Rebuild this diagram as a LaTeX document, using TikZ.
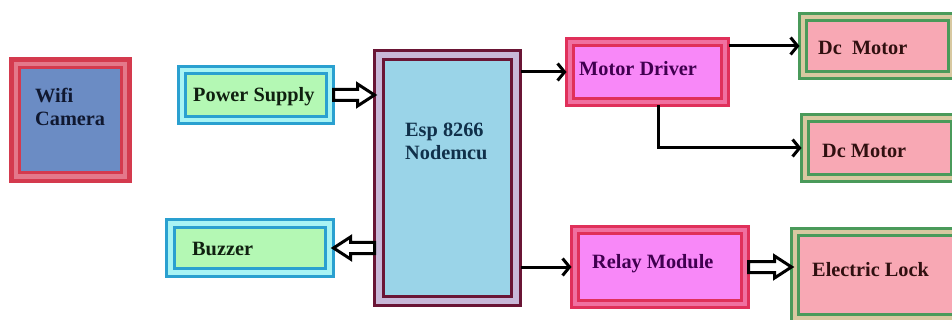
\documentclass[tikz,border=0pt]{standalone}
\usepackage{fontspec}
\setmainfont{Liberation Serif}
\usetikzlibrary{fit,calc,arrows.meta}
\definecolor{wifiB}{HTML}{D43A4E}\definecolor{wifiG}{HTML}{E4788A}\definecolor{wifiF}{HTML}{6B8CC4}
\definecolor{psB}{HTML}{2AA0D0}\definecolor{psG}{HTML}{A8F4F4}\definecolor{psF}{HTML}{B4F8B4}
\definecolor{espB}{HTML}{6A1535}\definecolor{espG}{HTML}{C8B8D8}\definecolor{espF}{HTML}{9AD4E8}
\definecolor{mdB}{HTML}{E0305A}\definecolor{mdG}{HTML}{F070A0}\definecolor{mdF}{HTML}{F888F8}
\definecolor{dcB}{HTML}{4A9A5A}\definecolor{dcG}{HTML}{D8C8A0}\definecolor{dcF}{HTML}{F8A8B4}
\definecolor{wifiT}{HTML}{101830}\definecolor{psT}{HTML}{102010}\definecolor{espT}{HTML}{10304A}
\definecolor{mdT}{HTML}{400050}\definecolor{dcT}{HTML}{301010}
\newcommand\blk[7]{%
  \node[fit={(#3,#4) (#5,#6)}, inner sep=0pt, outer sep=0pt, draw=#2B, fill=#2G, line width=3pt] (#1) {};
  \draw[#2B, fill=#2F, line width=3pt] ([shift={(#7pt,-#7pt)}]#1.north west) rectangle ([shift={(-#7pt,#7pt)}]#1.south east);
}
\newcommand\hollowarrow[3]{%
  \coordinate (#3a) at (#1);
  \coordinate (#3b) at (#2);
  \coordinate (#3h) at ($(#3b)!17pt!(#3a)$);
  \draw[hollow] ($(#3a)!5.5pt!90:(#3b)$) -- ($(#3h)!5.5pt!-90:(#3a)$) -- ($(#3h)!11pt!-90:(#3a)$) -- (#3b)
     -- ($(#3h)!11pt!90:(#3a)$) -- ($(#3h)!5.5pt!90:(#3a)$) -- ($(#3a)!5.5pt!-90:(#3b)$) -- cycle;
}
\tikzset{
  txt/.style={anchor=base west, inner sep=0pt, font=\bfseries\fontsize{20.3}{23}\selectfont, align=left},
  conn/.style={line width=3pt, -{Straight Barb[length=7pt,width=17pt,line width=3pt]}},
  hollow/.style={line width=3pt, fill=white, line join=miter},
}
\begin{document}
\begin{tikzpicture}[x=1pt,y=-1pt]
\useasboundingbox (0,0) rectangle (952,320);
\clip (0,0) rectangle (952,320);
\fill[white] (0,0) rectangle (952,320);
\blk{wifi}{wifi}{11.5}{59.5}{129.5}{181}{8}
\draw[wifiB, line width=4.5pt] (wifi.north west) rectangle (wifi.south east);
\blk{ps}{ps}{178.5}{66.5}{333.5}{123.5}{7}
\blk{bz}{ps}{166.5}{219.5}{333.5}{276.5}{8}
\blk{esp}{esp}{374.5}{50.5}{520.5}{305.5}{9}
\blk{md}{md}{566.5}{38.5}{728.5}{105.5}{7}
\blk{dca}{dc}{799.5}{13.5}{955}{78.5}{7}
\blk{dcb}{dc}{801.5}{114.5}{958}{181.5}{7}
\blk{rl}{md}{571.5}{226.5}{748.5}{307.5}{7}
\blk{lock}{dc}{791.5}{228.5}{960}{321}{7}
\node[txt, text=wifiT] (wifiT) at (35,126) {Wifi\\Camera};
\node[txt, text=psT] (psT) at (193,101.5) {Power Supply};
\node[txt, text=psT] (bzT) at (192,255) {Buzzer};
\node[txt, text=espT] (espT) at (405,160) {Esp 8266\\Nodemcu};
\node[txt, text=mdT] (mdT) at (579,75.5) {Motor Driver};
\node[txt, text=dcT] (dcaT) at (818,55) {Dc\ \ Motor};
\node[txt, text=dcT] (dcbT) at (822,158) {Dc Motor};
\node[txt, text=mdT] (rlT) at (592,268.5) {Relay Module};
\node[txt, text=dcT] (lockT) at (812,276) {Electric Lock};
\draw[conn] (esp.east |- md.west) -- (md.west);
\draw[conn] (md.east |- dca.west) -- (dca.west);
\draw[conn] ([xshift=11pt]md.south) |- (dcb.west);
\draw[conn] (esp.east |- rl.west) -- (rl.west);
\hollowarrow{ps.east}{esp.west |- ps.east}{pa}
\hollowarrow{esp.west |- bz.east}{bz.east}{ba}
\hollowarrow{rl.east}{lock.west |- rl.east}{ra}
\end{tikzpicture}
\end{document}
